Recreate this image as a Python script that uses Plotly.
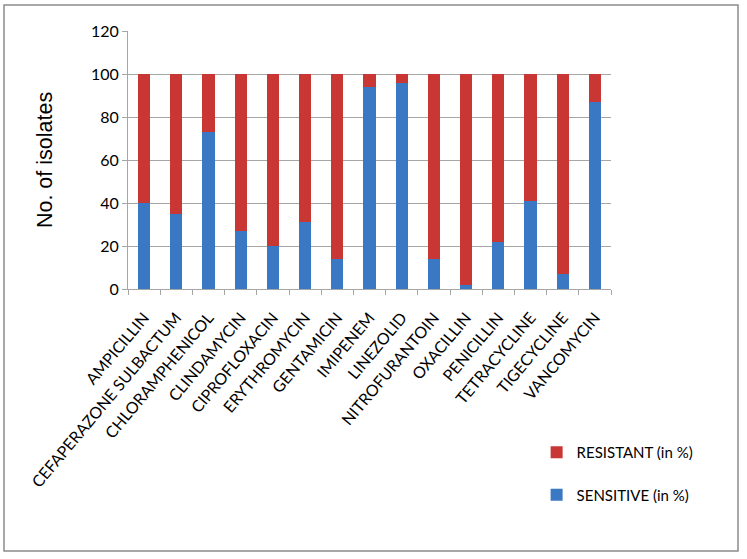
import plotly.graph_objects as go

categories = ["AMPICILLIN", "CEFAPERAZONE SULBACTUM", "CHLORAMPHENICOL", "CLINDAMYCIN",
              "CIPROFLOXACIN", "ERYTHROMYCIN", "GENTAMICIN", "IMIPENEM", "LINEZOLID",
              "NITROFURANTOIN", "OXACILLIN", "PENICILLIN", "TETRACYCLINE", "TIGECYCLINE",
              "VANCOMYCIN"]
sensitive = [40, 35, 73, 27, 20, 31, 14, 94, 96, 14, 2, 22, 41, 7, 87]
resistant = [60, 65, 27, 73, 80, 69, 86, 6, 4, 86, 98, 78, 59, 93, 13]
y_ticks = [0, 20, 40, 60, 80, 100, 120]

FONT = "Lato"
fig = go.Figure()
fig.add_trace(go.Bar(x=categories, y=sensitive, name="SENSITIVE (in %)",
                     marker=dict(color="#3a78c4", line=dict(width=0)),
                     legendgroup="s", legendrank=2))
fig.add_trace(go.Bar(x=categories, y=resistant, name="RESISTANT (in %)",
                     marker=dict(color="#c93735", line=dict(width=0)),
                     legendgroup="r", legendrank=1))

fig.update_layout(
    width=747, height=559,
    barmode="stack", bargap=0.62,
    paper_bgcolor="white", plot_bgcolor="white",
    margin=dict(l=128, r=136, t=31, b=270, autoexpand=False),
    font=dict(family=FONT, color="#000000"),
    xaxis=dict(type="category", tickangle=-50, tickfont=dict(size=16, family=FONT),
               ticklabelstandoff=12,
               showline=True, linecolor="#a6a6a6", linewidth=1, automargin=False,
               ticks="outside", tickson="boundaries", ticklen=5, tickcolor="#a6a6a6",
               showgrid=False),
    yaxis=dict(range=[0, 120], tickvals=y_ticks, tickfont=dict(size=16, family=FONT),
               showline=True, linecolor="#a6a6a6", linewidth=1, automargin=False,
               ticks="outside", ticklen=5, tickcolor="#a6a6a6",
               showgrid=True, gridcolor="#a6a6a6", gridwidth=1, zeroline=False,
               title=dict(text="No. of isolates", font=dict(size=21.5, family="Liberation Sans"),
                          standoff=32)),
    legend=dict(x=0.846, y=-0.57, xanchor="left", yanchor="top",
                traceorder="grouped", tracegroupgap=20,
                font=dict(size=15, family=FONT), bgcolor="rgba(0,0,0,0)"),
    shapes=[dict(type="rect", xref="paper", yref="paper",
                 x0=-124/483, x1=610/483, y0=-262/258, y1=284/258,
                 line=dict(color="#8c8c8c", width=1.5), fillcolor="rgba(0,0,0,0)", layer="below")],
)

fig.write_html("out.html", config={"displayModeBar": False},
               post_script="document.body.style.margin='0px';")
